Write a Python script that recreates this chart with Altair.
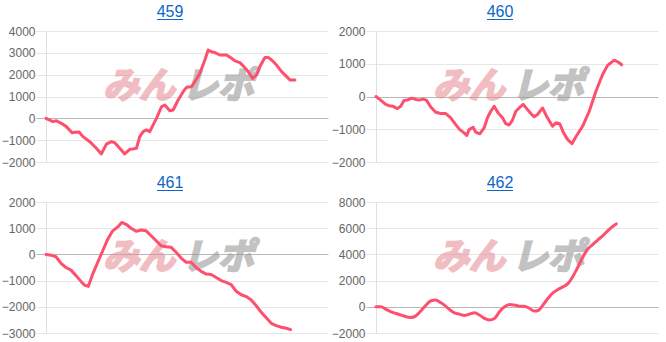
import altair as alt
import pandas as pd

LINE = "#ff4f6e"
TITLE_BLUE = "#0a66c8"
XMAX = 8450

titles = ["459", "460", "461", "462"]

x459 = [0, 210, 310, 460, 610, 780, 860, 990, 1110, 1310, 1510, 1660, 1810, 1960, 2060, 2210, 2360, 2510, 2610, 2710,
        2810, 2910, 3010, 3110, 3210, 3310, 3460, 3560, 3710, 3810, 3960, 4110, 4210, 4360, 4460, 4610, 4760, 4860, 4960, 5060,
        5210, 5410, 5560, 5660, 5810, 5910, 6060, 6190, 6310, 6410, 6560, 6660, 6760, 6910, 7060, 7210, 7310, 7460]
y459 = [0, -150, -110, -230, -380, -660, -640, -630, -840, -1070, -1370, -1630, -1180, -1070, -1120, -1370, -1630, -1420, -1400, -1370,
        -840, -610, -530, -610, -300, 0, 530, 610, 350, 380, 840, 1220, 1420, 1450, 1680, 2060, 2670, 3130, 3050, 3010,
        2900, 2900, 2750, 2630, 2550, 2400, 2140, 1830, 1990, 2370, 2790, 2790, 2670, 2440, 2140, 1910, 1760, 1760]

x460 = [0, 140, 290, 390, 510, 640, 740, 840, 940, 1070, 1190, 1290, 1410, 1510, 1640, 1790, 1940, 2090, 2240, 2390,
        2510, 2640, 2720, 2790, 2910, 2990, 3110, 3240, 3340, 3440, 3540, 3660, 3790, 3890, 3990, 4090, 4190, 4290, 4410, 4540,
        4640, 4740, 4840, 4990, 5110, 5290, 5390, 5510, 5620, 5740, 5870, 5990, 6190, 6390, 6590, 6790, 6940, 7140, 7290, 7360]
y460 = [0, -110, -240, -280, -300, -370, -300, -120, -110, -50, -90, -110, -80, -110, -320, -480, -520, -520, -650, -860,
        -1010, -1110, -1190, -1010, -940, -1090, -1140, -960, -650, -450, -300, -500, -650, -830, -870, -720, -450, -350, -240, -400,
        -520, -620, -550, -350, -600, -910, -800, -840, -1110, -1310, -1440, -1230, -910, -450, 160, 670, 950, 1110, 1030, 970]

x461 = [0, 150, 300, 450, 600, 750, 900, 1050, 1150, 1270, 1400, 1550, 1700, 1850, 2000, 2150, 2270, 2400, 2550, 2700,
        2850, 3000, 3150, 3300, 3450, 3600, 3750, 3900, 4050, 4200, 4350, 4500, 4650, 4800, 4950, 5100, 5250, 5400, 5550, 5700,
        5850, 6000, 6150, 6300, 6450, 6600, 6750, 6900, 7050, 7200, 7330]
y461 = [0, -30, -90, -340, -500, -600, -810, -1030, -1170, -1220, -750, -300, 140, 580, 900, 1050, 1220, 1150, 1000, 880,
        930, 900, 710, 520, 330, 290, 270, 80, -140, -300, -300, -500, -650, -750, -770, -880, -1000, -1070, -1150, -1410,
        -1540, -1610, -1740, -1960, -2210, -2420, -2630, -2720, -2780, -2820, -2870]

x462 = [0, 150, 300, 450, 600, 750, 900, 1050, 1180, 1320, 1500, 1650, 1780, 1900, 2050, 2200, 2350, 2500, 2650, 2800,
        2950, 3100, 3250, 3400, 3550, 3700, 3850, 4000, 4150, 4300, 4450, 4600, 4750, 4880, 5000, 5150, 5300, 5450, 5600, 5750,
        5900, 6050, 6200, 6350, 6500, 6650, 6800, 6950, 7100, 7200]
y462 = [0, 0, -200, -380, -510, -630, -760, -810, -710, -380, 130, 460, 510, 380, 130, -200, -460, -560, -660, -560,
        -460, -630, -890, -1010, -890, -380, 0, 180, 130, 50, 50, -130, -330, -250, 130, 630, 1060, 1320, 1520, 1770,
        2330, 3040, 3800, 4430, 4760, 5110, 5440, 5820, 6150, 6330]

ticks459 = [-2000, -1000, 0, 1000, 2000, 3000, 4000]
ticks460 = [-2000, -1000, 0, 1000, 2000]
ticks461 = [-3000, -2000, -1000, 0, 1000, 2000]
ticks462 = [-2000, 0, 2000, 4000, 6000, 8000]

W, H = 282, 131

grid_color = {"condition": {"test": "datum.value === 0", "value": "#b8b8b8"}, "value": "#e6e6e6"}


def panel(title, xs, ys, ticks, interp):
    df = pd.DataFrame({"x": xs, "y": ys})
    one = pd.DataFrame({"t": [title], "a": ["みん"], "b": ["レポ"]})

    wm1 = alt.Chart(one).mark_text(
        font="Noto Sans CJK JP", fontSize=36, fontWeight="bold", fontStyle="italic",
        color="#e58a92", stroke="#e58a92", strokeWidth=2.2, opacity=0.55,
        baseline="middle", align="center"
    ).encode(x=alt.value(93), y=alt.value(56), text="a:N")
    wm2 = alt.Chart(one).mark_text(
        font="Noto Sans CJK JP", fontSize=36, fontWeight="bold", fontStyle="italic",
        color="#9a9a9a", stroke="#9a9a9a", strokeWidth=2.2, opacity=0.6,
        baseline="middle", align="center"
    ).encode(x=alt.value(172), y=alt.value(56), text="b:N")

    line = alt.Chart(df).mark_line(
        color=LINE, strokeWidth=3, interpolate=interp, strokeJoin="round", strokeCap="round"
    ).encode(
        x=alt.X("x:Q", scale=alt.Scale(domain=[0, XMAX], nice=False, zero=False), axis=None),
        y=alt.Y("y:Q", scale=alt.Scale(domain=[ticks[0], ticks[-1]], nice=False, zero=False),
                axis=alt.Axis(values=ticks, format="d", title=None, grid=True,
                              gridColor=grid_color, tickColor=grid_color, tickSize=10,
                              labelPadding=1, domainColor="#e0e0e0",
                              labelFont="Liberation Sans", labelFontSize=12, labelColor="#666666")),
    )

    ttl = alt.Chart(one).mark_text(
        font="Liberation Sans", fontSize=16, color=TITLE_BLUE, align="center", baseline="alphabetic"
    ).encode(x=alt.value(124), y=alt.value(-14), text="t:N")
    ul = alt.Chart(one).mark_rule(color=TITLE_BLUE, strokeWidth=1).encode(
        x=alt.value(111), x2=alt.value(137), y=alt.value(-11.5)
    )
    return alt.layer(wm1, wm2, line, ttl, ul).properties(width=W, height=H)


p1 = panel(titles[0], x459, y459, ticks459, "linear")
p2 = panel(titles[1], x460, y460, ticks460, "linear")
p3 = panel(titles[2], x461, y461, ticks461, "linear")
p4 = panel(titles[3], x462, y462, ticks462, "monotone")

chart = alt.concat(p1, p2, p3, p4, columns=2, spacing={"row": 40, "column": 48}, bounds="flush").properties(
    padding={"left": 1, "top": 4, "right": 4, "bottom": 4}
).configure_view(strokeWidth=0)

chart.save("out.html", embed_options={"renderer": "svg", "actions": False})
